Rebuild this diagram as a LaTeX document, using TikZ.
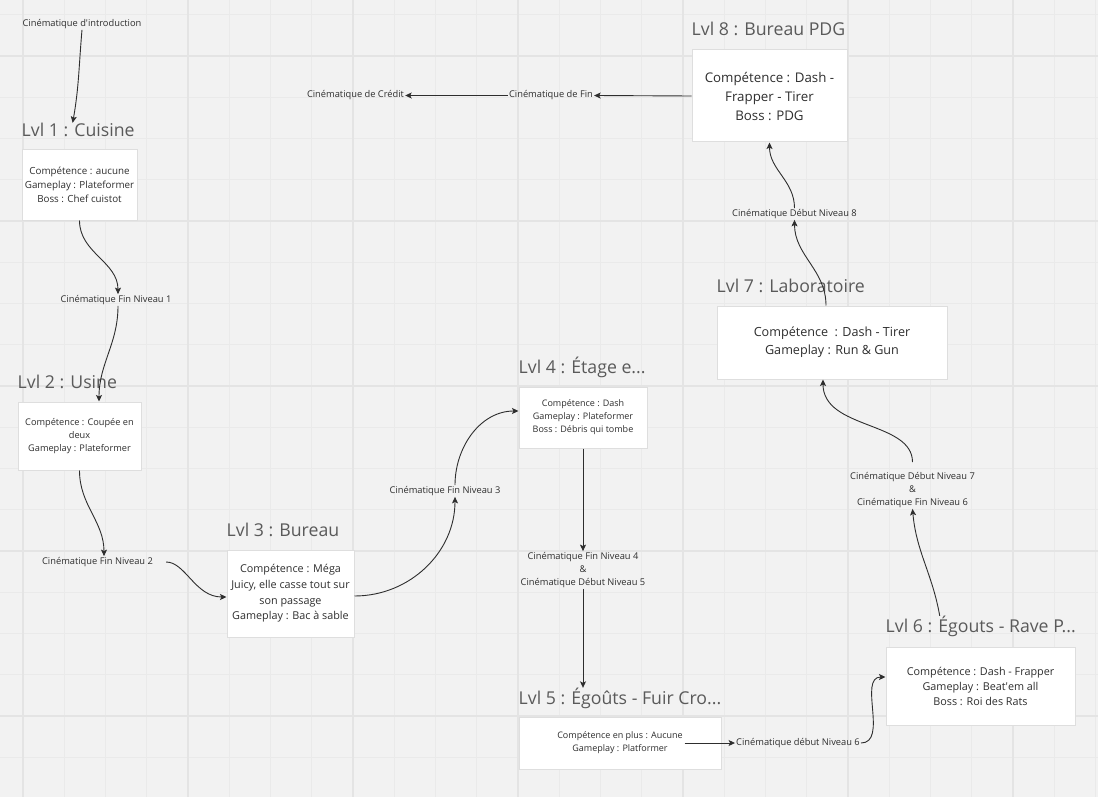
\documentclass[tikz,border=0pt]{standalone}
\usepackage{fontspec}
\setmainfont{Open Sans}
\usetikzlibrary{
    arrows.meta,
    positioning,
    calc
}
\definecolor{boardBg}{HTML}{F2F2F2}
\definecolor{gridMinor}{HTML}{EAEAEA}
\definecolor{gridMajor}{HTML}{E4E4E4}
\definecolor{inkDark}{HTML}{2E2E2E}
\definecolor{titleGrey}{HTML}{5A5A5A}
\definecolor{cardLine}{HTML}{DEDEDE}
\tikzset{
    % --- Level card (white frame) ---
    level box/.style = {
        rectangle, draw=cardLine, line width=1pt, fill=white,
        align=center, text=inkDark, inner sep=0pt
    },
    % --- Level title above the card ---
    level title/.style = {
        anchor=base west, inner sep=0pt, text=titleGrey,
        font=\fontsize{17.7}{20}\selectfont
    },
    % --- Cinematic label between levels ---
    cine/.style = {
        align=center, text=inkDark, inner sep=1pt,
        font=\fontsize{9.3}{13}\selectfont
    },
    % --- Flow arrow ---
    flow arrow/.style = {
        -{Stealth[length=6.5pt, width=6pt, inset=1.5pt]},
        draw=inkDark, line width=0.9pt
    }
}

\begin{document}
\begin{tikzpicture}[x=1pt, y=-1pt]

% ---------------------------------------------------------
% Board background + grid
% ---------------------------------------------------------
\useasboundingbox (0,0) rectangle (1098,797);
\fill[boardBg] (0,0) rectangle (1098,797);
\foreach \gx in {0,...,26}
    \draw[gridMinor, line width=1pt] ({23+41.25*\gx},0) -- ++(0,797);
\foreach \gy in {0,...,18}
    \draw[gridMinor, line width=1pt] (0,{14.75+41.25*\gy}) -- ++(1098,0);
\foreach \gx in {0,...,6}
    \draw[gridMajor, line width=1.4pt] ({23+165*\gx},0) -- ++(0,797);
\foreach \gy in {0,...,4}
    \draw[gridMajor, line width=1.4pt] (0,{56+165*\gy}) -- ++(1098,0);

% ---------------------------------------------------------
% Level cards
% ---------------------------------------------------------
\node[level box, minimum width=115pt, minimum height=70pt,
      font=\fontsize{9.8}{14}\selectfont] (b1) at (79.5,185) {%
    Compétence : aucune\\
    Gameplay : Plateformer\\
    Boss : Chef cuistot
};
\node[level box, minimum width=123pt, minimum height=68pt,
      font=\fontsize{9.2}{13}\selectfont] (b2) at (79.5,436) {%
    Compétence : Coupée en\\
    deux\\
    Gameplay : Plateformer
};
\node[level box, minimum width=127pt, minimum height=87pt,
      font=\fontsize{10.8}{15.7}\selectfont] (b3) at (290.5,593.5) {%
    Compétence : Méga\\
    Juicy, elle casse tout sur\\
    son passage\\
    Gameplay : Bac à sable
};
\node[level box, minimum width=128pt, minimum height=61pt,
      font=\fontsize{9}{13}\selectfont] (b4) at (583,417.5) {%
    Compétence : Dash\\
    Gameplay : Plateformer\\
    Boss : Débris qui tombe
};
\node[level box, minimum width=202pt, minimum height=52pt,
      font=\fontsize{9}{13}\selectfont] (b5) at (620,743) {%
    Compétence en plus : Aucune\\
    Gameplay : Platformer
};
\node[level box, minimum width=189pt, minimum height=78pt,
      font=\fontsize{10.8}{15}\selectfont] (b6) at (980.5,686) {%
    Compétence : Dash - Frapper\\
    Gameplay : Beat\textquotesingle em all\\
    Boss : Roi des Rats
};
\node[level box, minimum width=230pt, minimum height=73pt,
      font=\fontsize{12.6}{18}\selectfont] (b7) at (832,342.5) {%
    Compétence~ : Dash - Tirer\\
    Gameplay : Run \& Gun
};
\node[level box, minimum width=155pt, minimum height=92pt,
      font=\fontsize{13.3}{19}\selectfont] (b8) at (769.5,96) {%
    Compétence : Dash -\\
    Frapper - Tirer\\
    Boss : PDG
};

% ---------------------------------------------------------
% Level titles
% ---------------------------------------------------------
\node[level title] (t1) at ([yshift=13pt]b1.north west) {Lvl 1 : Cuisine};
\node[level title] (t2) at ([yshift=13pt]b2.north west) {Lvl 2 : Usine};
\node[level title] (t3) at ([yshift=13pt]b3.north west) {Lvl 3 : Bureau};
\node[level title] (t4) at ([yshift=13pt]b4.north west) {Lvl 4 : Étage e...};
\node[level title] (t5) at ([yshift=12pt]b5.north west) {Lvl 5 : Égoûts - Fuir Cro...};
\node[level title] (t6) at ([yshift=14pt]b6.north west) {Lvl 6 : Égouts - Rave P...};
\node[level title] (t7) at ([yshift=13pt]b7.north west) {Lvl 7 : Laboratoire};
\node[level title] (t8) at ([yshift=14pt]b8.north west) {Lvl 8 : Bureau PDG};

% ---------------------------------------------------------
% Cinematics
% ---------------------------------------------------------
\node[cine] (cIntro) at (82,24) {Cinématique d\textquotesingle introduction};
\node[cine] (c1) at (116,300) {Cinématique Fin Niveau 1};
\node[cine] (c2) at (97.5,562) {Cinématique Fin Niveau 2};
\node[cine] (c3) at (445,491) {Cinématique Fin Niveau 3};
\node[cine] (c45) at (583,570) {Cinématique Fin Niveau 4\\\&\\Cinématique Début Niveau 5};
\node[cine] (c6) at (798,743) {Cinématique début Niveau 6};
\node[cine] (c76) at (912.5,490) {Cinématique Début Niveau 7\\\&\\Cinématique Fin Niveau 6};
\node[cine] (c8) at (794.5,214) {Cinématique Début Niveau 8};
\node[cine] (cFin) at (551,95.5) {Cinématique de Fin};
\node[cine] (cCred) at (355.5,95.5) {Cinématique de Crédit};

% ---------------------------------------------------------
% Flow: intro -> Lvl 1 -> ... -> Lvl 4
% ---------------------------------------------------------
\draw[flow arrow] (cIntro.south) to[out=-95, in=80] ([xshift=-5.5pt]t1.north);
\draw[flow arrow] (b1.south) to[out=-90, in=90] ([xshift=2pt]c1.north);
\draw[flow arrow] ([xshift=2pt]c1.south) to[out=-90, in=90] ([xshift=19.5pt]b2.north);
\draw[flow arrow] (b2.south) to[out=-90, in=90] ([xshift=6.5pt]c2.north);
\draw[flow arrow, shorten <=12pt] (c2.east) to[out=0, in=180] ([yshift=-3.5pt]b3.west);
\draw[flow arrow] ([yshift=-2.5pt]b3.east) to[out=0, in=-90] ([xshift=10pt]c3.south);
\draw[flow arrow] ([xshift=10pt]c3.north) to[out=90, in=180] ([yshift=6.5pt]b4.west);

% ---------------------------------------------------------
% Flow: Lvl 4 -> Lvl 5 -> Lvl 6
% ---------------------------------------------------------
\draw[flow arrow] (b4.south) -- (c45.north);
\draw[flow arrow] (c45.south) -- (c45.south |- t5.north);
\draw[flow arrow] ([xshift=-37pt]b5.east) -- (c6.west);
\draw[flow arrow] (c6.east) to[out=0, in=180] ([yshift=9pt]b6.west);

% ---------------------------------------------------------
% Flow: Lvl 6 -> Lvl 7 -> Lvl 8 -> end
% ---------------------------------------------------------
\draw[flow arrow] ([xshift=-41pt]t6.north) to[out=100, in=-85] (c76.south);
\draw[flow arrow, shorten <=9pt] (c76.north) to[out=90, in=-90] ([xshift=-9pt]b7.south);
\draw[flow arrow] ([xshift=-6pt]b7.north) to[out=90, in=-90] (c8.south);
\draw[flow arrow] (c8.north) to[out=90, in=-90] (b8.south);
\draw[flow arrow] (b8.west) -- (cFin.east);
\draw[flow arrow] (cFin.west) -- (cCred.east);

\end{tikzpicture}
\end{document}
